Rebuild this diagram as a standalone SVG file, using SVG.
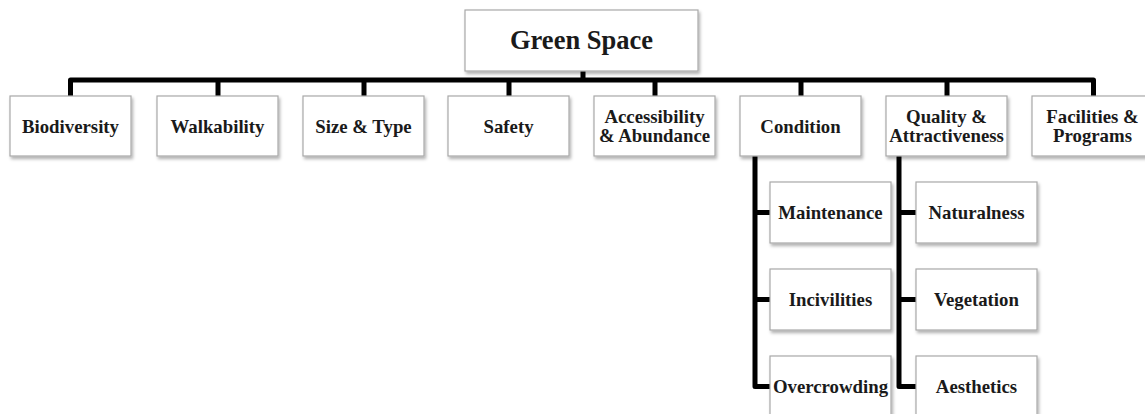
<svg xmlns="http://www.w3.org/2000/svg" width="1145" height="414" viewBox="0 0 1145 414">
<defs>
<filter id="sh" x="-10%" y="-10%" width="130%" height="140%">
<feDropShadow dx="1.5" dy="2.5" stdDeviation="1.5" flood-color="#000" flood-opacity="0.3"/>
</filter>
<style>
.box{fill:#fff;stroke:#a8a8a8;stroke-width:1.2;filter:url(#sh)}
.t{font-family:"Liberation Serif","Times New Roman",serif;font-weight:bold;font-size:18.8px;fill:#1a1a1a;text-anchor:middle}
.big{font-size:26.5px}
.ln{fill:none;stroke:#000;stroke-width:5;stroke-linejoin:round}
</style>
</defs>
<rect width="1145" height="414" fill="#fff"/>
<g id="connectors">
<path class="ln" d="M583 71V80M70.5 96V80H1093.5V96M218 80V96M364 80V96M509 80V96M655 80V96M801 80V96M947 80V96"/>
<path class="ln" d="M755 156V386.5H770M755 212.5H770M755 299.5H770"/>
<path class="ln" d="M899 156V386.5H916M899 212.5H916M899 299.5H916"/>
</g>
<g id="green-space"><rect class="box" x="465" y="10" width="233" height="61"/><text class="t big" x="581.5" y="49">Green Space</text></g>
<g id="biodiversity"><rect class="box" x="10" y="96" width="121" height="60"/><text class="t" x="70.5" y="132.5">Biodiversity</text></g>
<g id="walkability"><rect class="box" x="157" y="96" width="121" height="60"/><text class="t" x="217.5" y="132.5">Walkability</text></g>
<g id="size-type"><rect class="box" x="303" y="96" width="121" height="60"/><text class="t" x="363.5" y="132.5">Size &amp; Type</text></g>
<g id="safety"><rect class="box" x="448" y="96" width="121" height="60"/><text class="t" x="508.5" y="132.5">Safety</text></g>
<g id="accessibility"><rect class="box" x="594" y="96" width="121" height="60"/><text class="t" x="654.5" y="123">Accessibility</text><text class="t" x="654.5" y="142">&amp; Abundance</text></g>
<g id="condition"><rect class="box" x="740" y="96" width="121" height="60"/><text class="t" x="800.5" y="132.5">Condition</text></g>
<g id="quality"><rect class="box" x="886" y="96" width="121" height="60"/><text class="t" x="946.5" y="123">Quality &amp;</text><text class="t" x="946.5" y="142">Attractiveness</text></g>
<g id="facilities"><rect class="box" x="1032" y="96" width="121" height="60"/><text class="t" x="1092.5" y="123">Facilities &amp;</text><text class="t" x="1092.5" y="142">Programs</text></g>
<g id="maintenance"><rect class="box" x="770" y="182" width="121" height="61"/><text class="t" x="830.5" y="219">Maintenance</text></g>
<g id="incivilities"><rect class="box" x="770" y="269" width="121" height="61"/><text class="t" x="830.5" y="306">Incivilities</text></g>
<g id="overcrowding"><rect class="box" x="770" y="356" width="121" height="61"/><text class="t" x="830.5" y="393">Overcrowding</text></g>
<g id="naturalness"><rect class="box" x="916" y="182" width="121" height="61"/><text class="t" x="976.5" y="219">Naturalness</text></g>
<g id="vegetation"><rect class="box" x="916" y="269" width="121" height="61"/><text class="t" x="976.5" y="306">Vegetation</text></g>
<g id="aesthetics"><rect class="box" x="916" y="356" width="121" height="61"/><text class="t" x="976.5" y="393">Aesthetics</text></g>
</svg>
